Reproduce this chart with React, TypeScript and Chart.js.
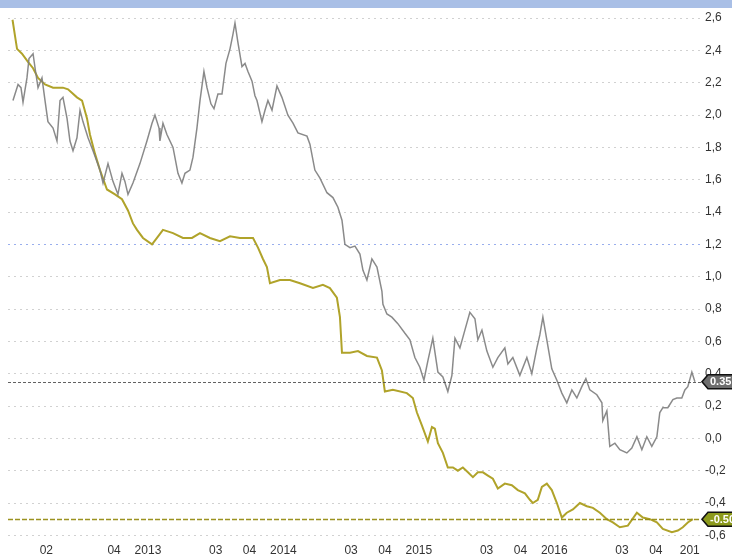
import { useEffect, useRef } from "react";
import { Chart, registerables } from "chart.js";

Chart.register(...registerables);

// x = months since Jan 2012
const greyMonths = [
  0.04, 0.49, 0.75, 0.93, 1.28, 1.46, 1.82, 2.0, 2.26, 2.61, 2.88, 3.14, 3.59, 3.94, 4.21, 4.47, 4.83, 5.09, 5.36, 5.71,
  5.98, 6.24, 6.69, 7.13, 7.75, 8.02, 8.46, 8.9, 9.34, 9.7, 9.96, 10.23, 10.67, 11.29, 11.91, 12.36, 12.62, 12.98, 13.06, 13.33,
  13.68, 14.22, 14.66, 15.01, 15.28, 15.72, 15.99, 16.34, 16.61, 16.96, 17.23, 17.58, 17.85, 18.2, 18.56, 18.91, 19.27, 19.53, 19.71, 19.97,
  20.33, 20.6, 20.86, 21.22, 21.48, 21.66, 22.1, 22.37, 22.63, 22.99, 23.43, 23.87, 24.4, 24.85, 25.29, 26.09, 26.35, 26.79, 27.24, 27.86,
  28.39, 28.83, 29.19, 29.45, 29.9, 30.34, 30.78, 31.05, 31.4, 31.84, 32.29, 32.73, 32.82, 33.17, 33.61, 34.14, 34.77, 35.21, 35.65, 36.09,
  36.45, 36.8, 37.24, 37.69, 38.13, 38.57, 38.93, 39.2, 39.64, 40.08, 40.52, 40.97, 41.23, 41.59, 42.03, 42.56, 43.0, 43.62, 43.89, 44.33,
  44.95, 45.57, 46.01, 46.46, 46.72, 46.99, 47.34, 47.78, 48.23, 48.67, 49.11, 49.56, 50.0, 50.44, 50.8, 51.15, 51.77, 52.22, 52.3, 52.66,
  52.92, 53.37, 53.81, 54.43, 54.87, 55.32, 55.76, 56.2, 56.64, 57.09, 57.35, 57.62, 58.06, 58.51, 58.86, 59.3, 59.57, 59.83, 60.19, 60.46,
];
const greyValues = [
  2.09, 2.19, 2.17, 2.08, 2.23, 2.35, 2.38, 2.29, 2.17, 2.23, 2.09, 1.96, 1.92, 1.84, 2.09, 2.11, 1.98, 1.84, 1.78, 1.86,
  2.03, 1.96, 1.86, 1.78, 1.66, 1.58, 1.7, 1.59, 1.51, 1.64, 1.59, 1.51, 1.58, 1.7, 1.84, 1.95, 2.0, 1.92, 1.84, 1.95,
  1.88, 1.8, 1.64, 1.58, 1.64, 1.66, 1.74, 1.92, 2.09, 2.27, 2.17, 2.07, 2.04, 2.13, 2.13, 2.32, 2.41, 2.5, 2.57, 2.45,
  2.3, 2.32, 2.27, 2.21, 2.12, 2.09, 1.96, 2.03, 2.09, 2.03, 2.18, 2.11, 2.0, 1.95, 1.89, 1.87, 1.82, 1.66, 1.61, 1.52,
  1.49, 1.43, 1.35, 1.2, 1.18, 1.19, 1.14, 1.04, 0.98, 1.11, 1.06, 0.91, 0.83, 0.77, 0.75, 0.71, 0.65, 0.61, 0.5, 0.44,
  0.36, 0.48, 0.62, 0.41, 0.38, 0.29, 0.39, 0.62, 0.56, 0.67, 0.78, 0.74, 0.61, 0.67, 0.54, 0.44, 0.5, 0.56, 0.46, 0.5,
  0.39, 0.5, 0.4, 0.56, 0.64, 0.75, 0.61, 0.43, 0.36, 0.28, 0.22, 0.3, 0.25, 0.32, 0.37, 0.3, 0.27, 0.22, 0.11, 0.17,
  -0.05, -0.03, -0.07, -0.09, -0.06, 0.01, -0.07, 0.01, -0.05, 0.01, 0.16, 0.19, 0.19, 0.24, 0.25, 0.25, 0.3, 0.32, 0.41, 0.35,
];

const yellowMonths = [
  0.0, 0.22, 0.4, 0.84, 1.37, 1.82, 2.26, 2.88, 3.59, 4.47, 4.92, 5.71, 6.16, 6.6, 6.86, 7.31, 7.75, 8.37, 9.08, 9.7,
  10.23, 10.67, 11.03, 11.56, 12.36, 12.8, 13.33, 14.22, 15.1, 15.9, 16.61, 17.49, 18.38, 19.27, 20.15, 21.31, 21.75, 22.19, 22.54, 22.81,
  23.69, 24.58, 25.47, 26.62, 27.5, 28.12, 28.74, 29.01, 29.19, 29.9, 30.61, 31.4, 32.29, 32.73, 32.99, 33.7, 34.94, 35.47, 35.83, 36.27,
  36.8, 37.16, 37.42, 37.69, 38.13, 38.57, 39.02, 39.46, 39.9, 40.35, 40.79, 41.23, 41.68, 42.12, 42.56, 43.0, 43.62, 44.24, 44.77, 45.4,
  45.84, 46.1, 46.54, 46.9, 47.34, 47.78, 48.23, 48.67, 49.11, 49.65, 50.27, 50.89, 51.42, 52.04, 52.66, 53.19, 53.81, 54.52, 55.32, 55.85,
  56.47, 57.09, 57.62, 58.42, 58.95, 59.39, 59.83, 60.28,
];
const yellowValues = [
  2.59, 2.49, 2.41, 2.38, 2.33, 2.29, 2.23, 2.19, 2.17, 2.17, 2.16, 2.11, 2.09, 1.98, 1.88, 1.76, 1.66, 1.54, 1.51, 1.48,
  1.41, 1.33, 1.29, 1.24, 1.2, 1.24, 1.29, 1.27, 1.24, 1.24, 1.27, 1.24, 1.22, 1.25, 1.24, 1.24, 1.18, 1.11, 1.06, 0.96,
  0.98, 0.98, 0.96, 0.93, 0.95, 0.93, 0.87, 0.75, 0.53, 0.53, 0.54, 0.51, 0.5, 0.42, 0.29, 0.3, 0.28, 0.25, 0.16, 0.08,
  -0.02, 0.07, 0.06, -0.03, -0.09, -0.18, -0.18, -0.2, -0.18, -0.21, -0.24, -0.21, -0.21, -0.23, -0.25, -0.31, -0.28, -0.29, -0.32, -0.34,
  -0.38, -0.4, -0.38, -0.3, -0.28, -0.32, -0.4, -0.49, -0.46, -0.44, -0.4, -0.42, -0.43, -0.46, -0.5, -0.52, -0.55, -0.54, -0.46, -0.49,
  -0.5, -0.52, -0.56, -0.58, -0.57, -0.55, -0.52, -0.5,
];

const xTickMonths = [3, 9, 12, 18, 21, 24, 30, 33, 36, 42, 45, 48, 54, 57, 60];
const xTickLabels = ["02", "04", "2013", "03", "04", "2014", "03", "04", "2015", "03", "04", "2016", "03", "04", "201"];
const yTickValues = [-0.6, -0.4, -0.2, 0.0, 0.2, 0.4, 0.6, 0.8, 1.0, 1.2, 1.4, 1.6, 1.8, 2.0, 2.2, 2.4, 2.6];

const greyRefValue = 0.35;
const yellowRefValue = -0.5;
const greyBadgeText = "0.35";
const yellowBadgeText = "-0.50";

const FONT = "'Liberation Sans', Arial, sans-serif";

const decorPlugin = {
  id: "decor",
  beforeDraw(chart: any) {
    const { ctx, width, height } = chart;
    ctx.save();
    ctx.fillStyle = "#ffffff";
    ctx.fillRect(0, 0, width, height);
    ctx.fillStyle = "#a9bfe6";
    ctx.fillRect(0, 0, width, 8);
    ctx.restore();
  },
  afterDatasetsDraw(chart: any) {
    const { ctx, chartArea, scales } = chart;
    const y = scales.y;
    const drawRef = (v: number, color: string, dash: number[], w: number) => {
      const py = Math.round(y.getPixelForValue(v)) + 0.5;
      ctx.save();
      ctx.strokeStyle = color;
      ctx.lineWidth = w;
      ctx.setLineDash(dash);
      ctx.beginPath();
      ctx.moveTo(chartArea.left, py);
      ctx.lineTo(chartArea.right, py);
      ctx.stroke();
      ctx.restore();
    };
    drawRef(greyRefValue, "rgba(70,70,70,0.85)", [3, 2], 1.2);
    drawRef(yellowRefValue, "rgba(150,140,20,0.95)", [5, 2], 1.4);
  },
  afterDraw(chart: any) {
    const { ctx, chartArea, scales, width } = chart;
    const y = scales.y;
    const badge = (v: number, fill: string, text: string) => {
      const yc = y.getPixelForValue(v);
      const x0 = chartArea.right + 1;
      const h = 7;
      ctx.save();
      ctx.beginPath();
      ctx.moveTo(x0, yc);
      ctx.lineTo(x0 + 6, yc - h);
      ctx.lineTo(width + 5, yc - h);
      ctx.lineTo(width + 5, yc + h);
      ctx.lineTo(x0 + 6, yc + h);
      ctx.closePath();
      ctx.fillStyle = fill;
      ctx.fill();
      ctx.lineWidth = 1.6;
      ctx.strokeStyle = "#111";
      ctx.stroke();
      ctx.fillStyle = "#ffffff";
      ctx.font = `bold 11px ${FONT}`;
      ctx.textBaseline = "middle";
      ctx.textAlign = "left";
      ctx.fillText(text, x0 + 8, yc + 0.5);
      ctx.restore();
    };
    badge(greyRefValue, "#6e6e6e", greyBadgeText);
    badge(yellowRefValue, "#8c9a1c", yellowBadgeText);
  },
};

export default function App() {
  const canvasRef = useRef<HTMLCanvasElement | null>(null);

  useEffect(() => {
    document.body.style.margin = "0";
    const canvas = canvasRef.current;
    if (!canvas) return;
    const chart = new Chart(canvas, {
      type: "line",
      data: {
        datasets: [
          {
            label: "grey",
            data: greyMonths.map((m, i) => ({ x: m, y: greyValues[i] })),
            borderColor: "rgba(125,125,125,0.9)",
            borderWidth: 1.5,
            pointRadius: 0,
            tension: 0,
          },
          {
            label: "yellow",
            data: yellowMonths.map((m, i) => ({ x: m, y: yellowValues[i] })),
            borderColor: "#b0a32a",
            borderWidth: 2,
            pointRadius: 0,
            tension: 0,
          },
        ],
      },
      options: {
        animation: false,
        responsive: false,
        devicePixelRatio: 1,
        layout: { padding: { left: 8, top: 10, right: 0, bottom: 0 } },
        plugins: { legend: { display: false }, tooltip: { enabled: false } },
        scales: {
          x: {
            type: "linear",
            min: -0.4,
            max: 61,
            grid: { display: false, drawTicks: false },
            border: { display: false },
            afterBuildTicks: (s: any) => {
              s.ticks = xTickMonths.map((v) => ({ value: v }));
            },
            afterFit: (s: any) => {
              s.height = 18;
            },
            ticks: {
              autoSkip: false,
              maxRotation: 0,
              padding: 2,
              color: "#333",
              font: { family: FONT, size: 12 },
              callback: (_v: any, i: number) => xTickLabels[i],
            },
          },
          y: {
            type: "linear",
            position: "right",
            min: -0.635,
            max: 2.643,
            afterBuildTicks: (s: any) => {
              s.ticks = yTickValues.map((v) => ({ value: v }));
            },
            afterFit: (s: any) => {
              s.width = 31;
            },
            grid: {
              drawTicks: false,
              lineWidth: 1,
              color: (c: any) =>
                c.tick && Math.abs(c.tick.value - 1.2) < 1e-6 ? "rgba(110,140,230,0.7)" : "rgba(140,140,140,0.4)",
            },
            border: { display: false, dash: [2, 4] },
            ticks: {
              padding: 4,
              color: "#333",
              font: { family: FONT, size: 12 },
              callback: (v: any) => Number(v).toFixed(1).replace(".", ","),
            },
          },
        },
      },
      plugins: [decorPlugin],
    });
    return () => chart.destroy();
  }, []);

  return (
    <div style={{ width: 732, height: 559 }}>
      <canvas ref={canvasRef} width={732} height={559} style={{ display: "block" }} />
    </div>
  );
}
